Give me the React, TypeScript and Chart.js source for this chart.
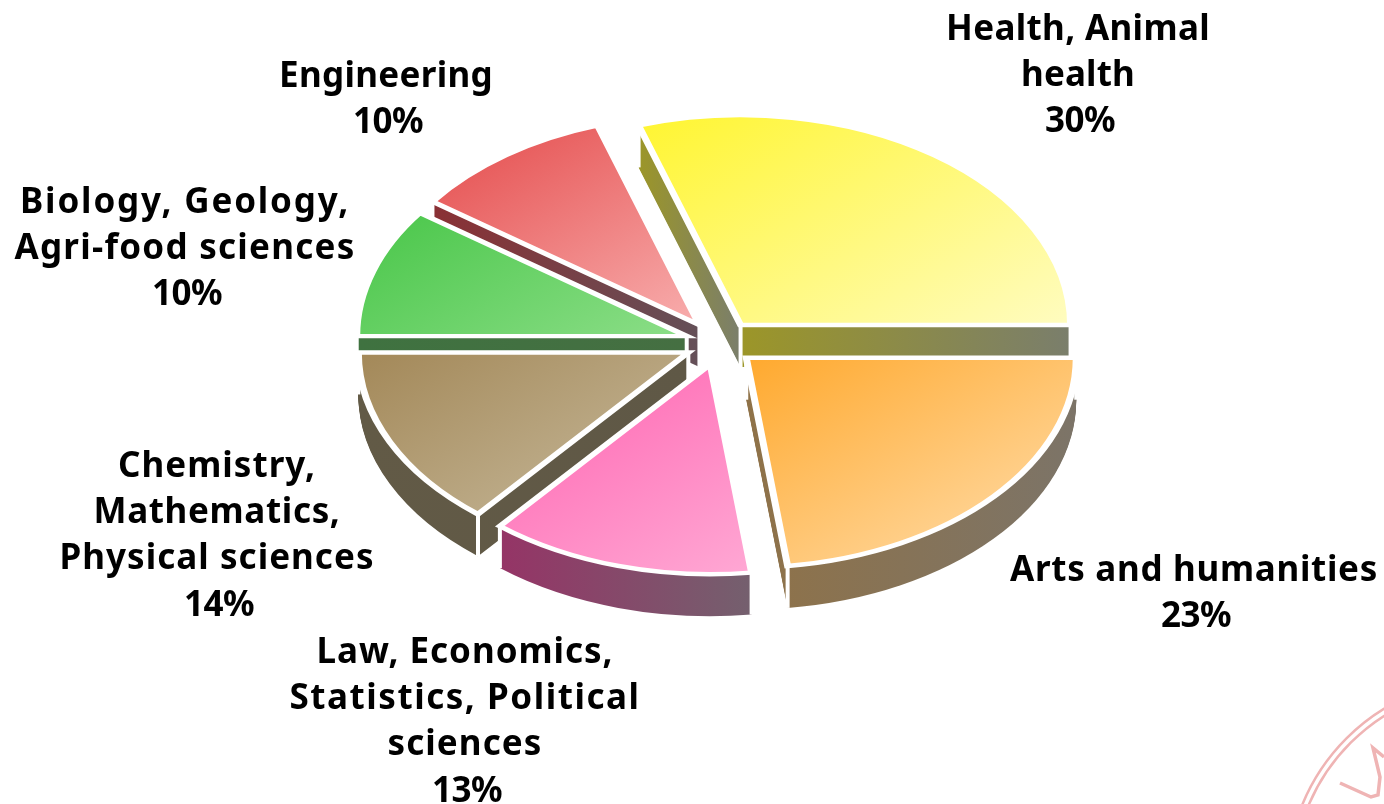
import React, { useEffect, useRef } from "react";
import { Chart, registerables } from "chart.js";

Chart.register(...registerables);

const categoryLines = [
  ["Health, Animal", "health"],
  ["Arts and humanities"],
  ["Law, Economics,", "Statistics, Political", "sciences"],
  ["Chemistry,", "Mathematics,", "Physical sciences"],
  ["Biology, Geology,", "Agri-food sciences"],
  ["Engineering"],
];
const values = [30, 23, 13, 14, 10, 10];

const topStart = ["#fff530", "#ffa92e", "#ff62b0", "#a38858", "#48c648", "#e44a4a"];
const topEnd = ["#fffcc0", "#ffdfb0", "#ffa8d4", "#c8bb9e", "#8cde88", "#f8aeae"];
const sideStart = ["#9c9628", "#8f7248", "#953466", "#625a46", "#3f7240", "#8a3034"];
const sideEnd = ["#7a7e6c", "#7c7468", "#74606e", "#5f5846", "#456f42", "#645058"];

const paintOrder = [0, 5, 4, 3, 2, 1];
const labelCentres = [1078, 1194, 465, 217, 185, 386];
const labelFirstBaselines = [40, 581, 663, 477, 213, 87];
const lineWidths = [[264, 114], [368], [297, 351, 155], [198, 247, 315], [330, 341], [214]];
const PERCENT_WIDTH = 70;
const LINE_HEIGHT = 46.2;
const FONT = "700 35px 'Noto Sans'";

const RADIUS = 330;
const EXPLODE = 35;
const SQUASH = 0.636;
const DEPTH = 42;
const CENTRE_Y = 343;
const GRADIENT_TILT = (30 * Math.PI) / 180;

function sliceBox(arc: any) {
  const xs = [0, Math.cos(arc.startAngle) * RADIUS, Math.cos(arc.endAngle) * RADIUS];
  const ys = [0, Math.sin(arc.startAngle) * RADIUS, Math.sin(arc.endAngle) * RADIUS];
  for (let q = -4; q <= 8; q++) {
    const a = (q * Math.PI) / 2;
    if (a > arc.startAngle && a < arc.endAngle) {
      xs.push(Math.cos(a) * RADIUS);
      ys.push(Math.sin(a) * RADIUS);
    }
  }
  return { x0: Math.min(...xs), y0: Math.min(...ys), x1: Math.max(...xs), y1: Math.max(...ys) };
}

const piePlugin = {
  id: "extrudedPie",
  beforeDatasetDraw(chart: any) {
    const ctx = chart.ctx;
    const arcs = chart.getDatasetMeta(0).data;
    const midY = (chart.chartArea.top + chart.chartArea.bottom) / 2;
    for (const i of paintOrder) {
      const arc = arcs[i];
      const base = arc.options;
      const mid = (arc.startAngle + arc.endAngle) / 2;
      const dx = Math.cos(mid) * EXPLODE;
      const dy = Math.sin(mid) * EXPLODE;
      const box = sliceBox(arc);

      // top face: gradient tilted in screen space, so its direction survives the squash
      const gx = Math.sin(GRADIENT_TILT);
      const gy = Math.cos(GRADIENT_TILT) * SQUASH;
      const proj = [
        box.x0 * gx + box.y0 * gy,
        box.x1 * gx + box.y0 * gy,
        box.x0 * gx + box.y1 * gy,
        box.x1 * gx + box.y1 * gy,
      ];
      const t0 = Math.min(...proj) / (gx * gx + gy * gy);
      const t1 = Math.max(...proj) / (gx * gx + gy * gy);
      const topFill = ctx.createLinearGradient(arc.x + gx * t0, arc.y + gy * t0, arc.x + gx * t1, arc.y + gy * t1);
      topFill.addColorStop(0, topStart[i]);
      topFill.addColorStop(1, topEnd[i]);

      // side faces: horizontal gradient; the first slice restarts it at its apex (two flat faces)
      const sideFill = ctx.createLinearGradient(arc.x + box.x0, 0, arc.x + box.x1, 0);
      sideFill.addColorStop(0, sideStart[i]);
      if (i === 0) {
        const apex = -box.x0 / (box.x1 - box.x0);
        sideFill.addColorStop(apex, sideEnd[i]);
        sideFill.addColorStop(apex, sideStart[i]);
      }
      sideFill.addColorStop(1, sideEnd[i]);

      const place = (down: number) => {
        ctx.translate(0, CENTRE_Y + down);
        ctx.scale(1, SQUASH);
        ctx.translate(dx, dy - midY);
      };
      arc.options = { ...base, backgroundColor: sideFill, borderWidth: 0, offset: 0 };
      for (let k = DEPTH; k >= 1; k--) {
        ctx.save();
        place(k);
        arc.draw(ctx);
        ctx.restore();
      }
      // white seams at the corners of the slice
      ctx.save();
      ctx.strokeStyle = "#ffffff";
      ctx.lineWidth = 4;
      const corners = [
        [0, 0],
        [Math.cos(arc.startAngle) * RADIUS, Math.sin(arc.startAngle) * RADIUS],
        [Math.cos(arc.endAngle) * RADIUS, Math.sin(arc.endAngle) * RADIUS],
      ];
      for (const [cx, cy] of corners) {
        const px = arc.x + dx + cx;
        const py = CENTRE_Y + (dy + cy) * SQUASH;
        ctx.beginPath();
        ctx.moveTo(px, py);
        ctx.lineTo(px, py + DEPTH);
        ctx.stroke();
      }
      ctx.restore();
      arc.options = {
        ...base,
        backgroundColor: topFill,
        borderColor: "#ffffff",
        borderWidth: 7,
        borderJoinStyle: "miter",
        offset: 0,
      };
      ctx.save();
      place(0);
      arc.draw(ctx);
      ctx.restore();
      arc.options = base;
    }
    return false;
  },
  afterDraw(chart: any) {
    const ctx = chart.ctx;
    // faint seal in the corner
    ctx.save();
    ctx.strokeStyle = "#efb4b4";
    ctx.lineWidth = 2.5;
    for (const r of [197, 203]) {
      ctx.beginPath();
      ctx.arc(1490, 882, r, Math.PI, 1.5 * Math.PI);
      ctx.stroke();
    }
    ctx.lineWidth = 3.5;
    ctx.beginPath();
    ctx.moveTo(1340, 783);
    ctx.lineTo(1371, 797);
    ctx.lineTo(1378, 795);
    ctx.lineTo(1380, 777);
    ctx.lineTo(1373, 748);
    ctx.lineTo(1384, 757);
    ctx.stroke();
    ctx.restore();

    ctx.save();
    ctx.fillStyle = "#000000";
    ctx.font = FONT;
    ctx.textAlign = "center";
    ctx.textBaseline = "alphabetic";
    const put = (text: string, x: number, y: number, width: number) => {
      ctx.letterSpacing = "0px";
      const natural = ctx.measureText(text).width;
      ctx.letterSpacing = `${(width - natural) / text.length}px`;
      ctx.fillText(text, x, y);
    };
    categoryLines.forEach((lines, i) => {
      lines.forEach((text, n) => {
        put(text, labelCentres[i], labelFirstBaselines[i] + n * LINE_HEIGHT, lineWidths[i][n]);
      });
      put(`${values[i]}%`, labelCentres[i] + 2, labelFirstBaselines[i] + lines.length * LINE_HEIGHT, PERCENT_WIDTH);
    });
    ctx.restore();
  },
};

export default function App() {
  const ref = useRef<HTMLCanvasElement>(null);
  useEffect(() => {
    const chart = new Chart(ref.current as HTMLCanvasElement, {
      type: "pie",
      data: {
        labels: categoryLines.map((l) => l.join(" ")),
        datasets: [{ data: values, backgroundColor: topStart, clip: false } as any],
      },
      options: {
        animation: false,
        responsive: false,
        rotation: -18,
        radius: RADIUS,
        layout: { padding: { left: 56 } },
        events: [],
        plugins: { legend: { display: false }, tooltip: { enabled: false } },
      } as any,
      plugins: [piePlugin],
    });
    return () => chart.destroy();
  }, []);
  return (
    <div style={{ position: "fixed", left: 0, top: 0, width: 1384, height: 804, background: "#fff" }}>
      <canvas ref={ref} width={1384} height={804} style={{ display: "block" }} />
    </div>
  );
}
